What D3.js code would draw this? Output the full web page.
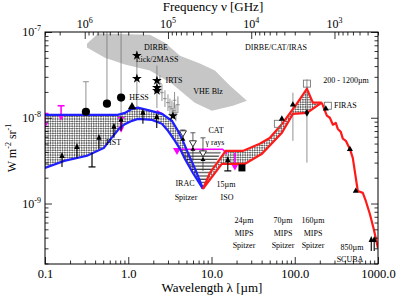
<!DOCTYPE html>
<html><head><meta charset="utf-8">
<script src="https://cdn.jsdelivr.net/npm/d3@7"></script>
<style>body{margin:0;background:#fff} text{font-family:"Liberation Serif",serif;fill:#000}</style>
</head><body><svg width="415" height="297"></svg>
<script>
// wavelength in micron, intensity in nW m^-2 sr^-1 (1e-9 W m^-2 sr^-1)
var optUpper = [[0.1,10.8],[0.752,10.8],[0.912,11.4],[1.11,12.7],[1.31,13.1],[1.82,12.1],[2.54,11.1],[3.35,9.2],[3.95,7.05],[4.54,5.38],[5.21,3.9],[6.5,2.4],[7.9,1.48]];
var optLower = [[0.1,2.6],[0.17,3.14],[0.32,3.6],[0.51,4.45],[0.62,5.7],[0.77,7.4],[0.91,8.4],[1.11,9.2],[1.31,9.7],[1.93,9.45],[2.54,8.5],[3.0,7.05],[3.64,5.38],[4.18,4.34],[4.8,3.31],[5.98,2.27],[7.9,1.48]];
var irUpper = [[7.9,1.48],[9.55,2.27],[12.6,3.3],[14.8,4.1],[23.8,4.1],[38,4.97],[50,5.8],[72,8.7],[106,14.6],[140,21.8],[165,15],[211,15]];
var irLower = [[7.9,1.48],[13.3,2.9],[25.2,2.9],[40.3,3.8],[70,6.67],[95,11.1],[140,11.4],[211,15]];
var firTail = [[211,15],[243,10.6],[264,10],[287,8.3],[311,8.7],[329,7.4],[357,6.85],[378,5.7],[411,5.38],[460,4.3],[498,3.4],[572,1.4],[657,1.33],[714,1.07],[800,0.75],[890,0.5],[1000,0.3]];
var iracGap = [[4.2,4.3],[7.9,1.48],[13.5,4.3]];
var dirbeBand = [[0.319,73],[0.433,96],[1.82,93],[2.76,75],[4.18,53],[7.25,43],[11,35.5],[16.6,23.7],[26.6,15.8],[18.1,13.8],[10.1,12.1],[6.3,15],[3.35,25],[1.82,35.5],[0.912,41.7],[0.525,50],[0.319,66]];
var catLimit = [[3.85,4.3],[13.6,4.3],[15.3,3.79]];
var catEnds = [[3.85,4.1],[19.1,2.7]];
var magentaUV = [[0.1,11.2],[0.156,13.8],[0.82,10]];
var magentaSeg = [[2.2,12.1],[2.7,10.8]];
var circles = [[0.31,11.75,26.3],[0.555,14.6,150],[0.82,17.2,150]];
var stars = [[1.27,53],[1.27,28.6],[2.21,27.1],[2.21,22.4],[2.21,20.7],[3.44,10.5]];
var starBars = [[1.27,10.5,60],[2.21,13,40.6]];
var irts = [[2.4,25],[2.54,19.6],[2.76,16.7],[3.0,15],[3.17,13.4],[3.35,12.7],[3.54,12.1],[3.74,11.4],[3.95,14.2],[3.6,16]];
var hess = [[1.11,13.4]];
var lowerLimits = [[0.16,2.67],[0.242,3.4],[0.445,4.34],[0.673,5.83],[0.82,7.05],[1.5,8.5],[2.2,7.6],[15.7,2.4],[830,0.28],[900,0.28]];
var hstBar = [[0.367,2.67,3.9]];
var irac = [[4.54,6.5,5.6,7.2],[5.98,4.97,3.14,6.68],[7.9,3.79,2.4,5.83]];
var isoSquare = [[23.2,2.6]];
var openSquares = [[62.7,8.5],[140,25],[250,13.8]];
var firBars = [[95,5.38,19.6],[140,3.0,28]];
var firPoints = [[70,9.7],[95,14.2],[236,12.7],[460,4.3],[541,1.4]];
var firDiamond = [[140,11.4]];
var xMajor = [0.1,1,10,100,1000];
var yMajor = [[1,"-9"],[10,"-8"],[100,"-7"]];
var fMajor = [[1e6,"6"],[1e5,"5"],[1e4,"4"],[1e3,"3"]];

var L=45,R=378,T=32,B=264;
var svg = d3.select("svg");
var x = d3.scaleLog().domain([0.1,1000]).range([L,R]);
var y = d3.scaleLog().domain([0.197,100]).range([B,T]);
var f = d3.scaleLog().domain([3e6,300]).range([L,R]);
var line = d3.line().x(function(d){return x(d[0]);}).y(function(d){return y(d[1]);});
var poly = function(a,b){ return line(a.concat(b.slice().reverse()))+"Z"; };

var defs = svg.append("defs");
var pat = defs.append("pattern").attr("id","xh").attr("patternUnits","userSpaceOnUse")
  .attr("width",3.4).attr("height",3.4).attr("patternTransform","rotate(45)");
pat.append("rect").attr("width",3.4).attr("height",3.4).attr("fill","#fff");
pat.append("rect").attr("width",1.7).attr("height",1.7).attr("fill","#666");
pat.append("rect").attr("x",1.7).attr("y",1.7).attr("width",1.7).attr("height",1.7).attr("fill","#666");
var hp = defs.append("pattern").attr("id","hl").attr("patternUnits","userSpaceOnUse").attr("width",6).attr("height",3.3);
hp.append("line").attr("x1",0).attr("x2",6).attr("y1",1).attr("y2",1).attr("stroke","#000").attr("stroke-width",0.9);
defs.append("clipPath").attr("id","clip").append("rect").attr("x",L).attr("y",T).attr("width",R-L).attr("height",B-T);

var g = svg.append("g").attr("clip-path","url(#clip)");

// shaded bands
g.append("path").attr("d",line(dirbeBand)+"Z").attr("fill","#c6c6c6");
g.append("path").attr("d",poly(optUpper,optLower)).attr("fill","url(#xh)");
g.append("path").attr("d",poly(irUpper,irLower)).attr("fill","url(#xh)");
g.append("path").attr("d",line(iracGap)+"Z").attr("fill","url(#hl)");

// grey error bars
var gr = g.append("g").attr("stroke","#777").attr("stroke-width",0.8).attr("fill","none");
circles.forEach(function(d){
  gr.append("line").attr("x1",x(d[0])).attr("x2",x(d[0])).attr("y1",y(d[1])).attr("y2",y(d[2]));
  gr.append("line").attr("x1",x(d[0])-3).attr("x2",x(d[0])+3).attr("y1",y(d[2])).attr("y2",y(d[2]));
});
gr.append("line").attr("x1",x(0.82)).attr("x2",x(0.82)).attr("y1",y(17.2)).attr("y2",y(8));
starBars.forEach(function(d){
  gr.append("line").attr("x1",x(d[0])).attr("x2",x(d[0])).attr("y1",y(d[1])).attr("y2",y(d[2]));
});
irts.forEach(function(d){
  gr.append("line").attr("x1",x(d[0])).attr("x2",x(d[0])).attr("y1",y(d[1]*0.8)).attr("y2",y(d[1]*1.25));
  gr.append("line").attr("x1",x(d[0]*0.95)).attr("x2",x(d[0]*1.05)).attr("y1",y(d[1])).attr("y2",y(d[1]));
});
firBars.forEach(function(d){
  gr.append("line").attr("x1",x(d[0])).attr("x2",x(d[0])).attr("y1",y(d[1])).attr("y2",y(d[2]));
});

// magenta limits
var mg = g.append("g").attr("stroke","#f0f").attr("stroke-width",1.6).attr("fill","none");
mg.append("path").attr("d",line(catLimit));
mg.append("path").attr("d",line(magentaSeg));
mg.append("line").attr("x1",x(19.1)).attr("x2",x(19.1)).attr("y1",y(3.9)).attr("y2",y(2.7));
magentaUV.forEach(function(d){
  var px=x(d[0]), py=y(d[1]);
  mg.append("line").attr("x1",px-3.5).attr("x2",px+3.5).attr("y1",py).attr("y2",py);
  mg.append("line").attr("x1",px).attr("x2",px).attr("y1",py).attr("y2",py+11);
  mg.append("path").attr("d","M"+(px-3)+","+(py+9)+"L"+px+","+(py+15)+"L"+(px+3)+","+(py+9)+"Z").attr("fill","#f0f").attr("stroke","none");
});
catEnds.forEach(function(d){
  var px=x(d[0]), py=y(d[1]);
  mg.append("path").attr("d","M"+(px-4)+","+(py-3)+"L"+(px+4)+","+(py-3)+"L"+px+","+(py+4)+"Z").attr("fill","#f0f").attr("stroke","none");
});

// envelope lines
var lw = 2.2;
g.append("path").attr("d",line(optUpper)).attr("fill","none").attr("stroke","#1f1fff").attr("stroke-width",lw);
g.append("path").attr("d",line(optLower)).attr("fill","none").attr("stroke","#1f1fff").attr("stroke-width",lw);
g.append("path").attr("d",line(irUpper)).attr("fill","none").attr("stroke","#ff1a1a").attr("stroke-width",lw);
g.append("path").attr("d",line(irLower)).attr("fill","none").attr("stroke","#ff1a1a").attr("stroke-width",lw);
g.append("path").attr("d",line(firTail)).attr("fill","none").attr("stroke","#ff1a1a").attr("stroke-width",lw).attr("stroke-linejoin","round");

// markers
var mk = g.append("g");
circles.forEach(function(d){
  mk.append("circle").attr("cx",x(d[0])).attr("cy",y(d[1])).attr("r",4.1).attr("fill","#000");
});
stars.forEach(function(d){
  mk.append("path").attr("d",d3.symbol().type(d3.symbolStar).size(30)()).attr("transform","translate("+x(d[0])+","+y(d[1])+")").attr("fill","#000");
});
hess.forEach(function(d){
  mk.append("path").attr("d",d3.symbol().type(d3.symbolTriangle).size(30)()).attr("transform","translate("+x(d[0])+","+y(d[1])+")").attr("fill","#000");
});
lowerLimits.forEach(function(d){
  var px=x(d[0]), py=y(d[1]);
  mk.append("line").attr("x1",px).attr("x2",px).attr("y1",py).attr("y2",py-12).attr("stroke","#000").attr("stroke-width",1.1);
  mk.append("path").attr("d","M"+(px-2.6)+","+(py-9)+"L"+px+","+(py-15)+"L"+(px+2.6)+","+(py-9)+"Z").attr("fill","#000");
});
hstBar.forEach(function(d){
  var px=x(d[0]);
  mk.append("line").attr("x1",px).attr("x2",px).attr("y1",y(d[1])).attr("y2",y(d[2])).attr("stroke","#000").attr("stroke-width",1.2);
  mk.append("line").attr("x1",px-3.5).attr("x2",px+3.5).attr("y1",y(d[1])).attr("y2",y(d[1])).attr("stroke","#000").attr("stroke-width",1.2);
});
mk.append("line").attr("x1",x(15.7)-3.5).attr("x2",x(15.7)+3.5).attr("y1",y(2.4)).attr("y2",y(2.4)).attr("stroke","#000").attr("stroke-width",1.2);
irac.forEach(function(d){
  var px=x(d[0]), py=y(d[1]);
  mk.append("line").attr("x1",px).attr("x2",px).attr("y1",y(d[2])).attr("y2",y(d[3])).attr("stroke","#333").attr("stroke-width",0.8);
  mk.append("line").attr("x1",px-2.5).attr("x2",px+2.5).attr("y1",y(d[3])).attr("y2",y(d[3])).attr("stroke","#333").attr("stroke-width",0.8);
  mk.append("path").attr("d","M"+(px-3.5)+","+(py-3)+"L"+(px+3.5)+","+(py-3)+"L"+px+","+(py+3)+"Z").attr("fill","#fff").attr("stroke","#000").attr("stroke-width",0.8);
  mk.append("path").attr("d","M"+(px-2.5)+","+(py+7)+"L"+px+","+(py+3)+"L"+(px+2.5)+","+(py+7)+"Z").attr("fill","#000");
});
isoSquare.forEach(function(d){
  mk.append("rect").attr("x",x(d[0])-3.5).attr("y",y(d[1])-3.5).attr("width",7).attr("height",7).attr("fill","#000");
});
openSquares.forEach(function(d){
  mk.append("rect").attr("x",x(d[0])-3.5).attr("y",y(d[1])-3.5).attr("width",7).attr("height",7).attr("fill","none").attr("stroke","#777").attr("stroke-width",0.9);
});
firPoints.forEach(function(d){
  mk.append("path").attr("d",d3.symbol().type(d3.symbolTriangle).size(16)()).attr("transform","translate("+x(d[0])+","+y(d[1])+")").attr("fill","#000");
});
firDiamond.forEach(function(d){
  mk.append("path").attr("d",d3.symbol().type(d3.symbolDiamond).size(18)()).attr("transform","translate("+x(d[0])+","+y(d[1])+")").attr("fill","#000");
});

// axes
var ax = svg.append("g");
var minorX = x.ticks().filter(function(v){return xMajor.indexOf(v)<0;});
var minorY = y.ticks().filter(function(v){return [1,10,100].indexOf(v)<0;});
var minorF = f.ticks().filter(function(v){return [1e3,1e4,1e5,1e6].indexOf(v)<0;});
var noLab = function(){return "";};
ax.append("g").attr("transform","translate(0,"+B+")").call(d3.axisBottom(x).tickValues(xMajor).tickSize(-7).tickPadding(5).tickFormat(d3.format(".1f")));
ax.append("g").attr("transform","translate(0,"+B+")").call(d3.axisBottom(x).tickValues(minorX).tickSize(-3.5).tickFormat(noLab));
ax.append("g").attr("transform","translate("+L+",0)").call(d3.axisLeft(y).tickValues([1,10,100]).tickSize(-7).tickFormat(noLab));
ax.append("g").attr("transform","translate("+L+",0)").call(d3.axisLeft(y).tickValues(minorY).tickSize(-3.5).tickFormat(noLab));
ax.append("g").attr("transform","translate("+R+",0)").call(d3.axisRight(y).tickValues([1,10,100]).tickSize(-7).tickFormat(noLab));
ax.append("g").attr("transform","translate("+R+",0)").call(d3.axisRight(y).tickValues(minorY).tickSize(-3.5).tickFormat(noLab));
ax.append("g").attr("transform","translate(0,"+T+")").call(d3.axisTop(f).tickValues([1e6,1e5,1e4,1e3]).tickSize(-7).tickFormat(noLab));
ax.append("g").attr("transform","translate(0,"+T+")").call(d3.axisTop(f).tickValues(minorF).tickSize(-3.5).tickFormat(noLab));
ax.selectAll(".domain").remove();
ax.selectAll("line").attr("stroke","#000").attr("stroke-width",0.8);
ax.selectAll("text").attr("font-family","Liberation Serif").attr("font-size",12.5);
svg.append("rect").attr("x",L).attr("y",T).attr("width",R-L).attr("height",B-T).attr("fill","none").attr("stroke","#000").attr("stroke-width",1);

yMajor.forEach(function(d){
  var t = svg.append("text").attr("x",L-4).attr("y",y(d[0])+4).attr("text-anchor","end").attr("font-size",12);
  t.append("tspan").text("10");
  t.append("tspan").attr("dy",-5).attr("font-size",8).text(d[1]);
});
fMajor.forEach(function(d){
  var t = svg.append("text").attr("x",f(d[0])).attr("y",28).attr("text-anchor","middle").attr("font-size",12);
  t.append("tspan").text("10");
  t.append("tspan").attr("dy",-5).attr("font-size",8).text(d[1]);
});
svg.append("text").attr("x",213).attr("y",11).attr("text-anchor","middle").attr("font-size",13).text("Frequency \u03bd [GHz]");
svg.append("text").attr("x",212).attr("y",292).attr("text-anchor","middle").attr("font-size",13).text("Wavelength \u03bb [\u00b5m]");
var yt = svg.append("text").attr("transform","translate(16,148) rotate(-90)").attr("text-anchor","middle").attr("font-size",12);
yt.append("tspan").text("W m");
yt.append("tspan").attr("dy",-5).attr("font-size",8).text("-2");
yt.append("tspan").attr("dy",5).text(" sr");
yt.append("tspan").attr("dy",-5).attr("font-size",8).text("-1");

// annotations
var notes = [
  ["DIRBE",156,50,"middle"],["Lick/2MASS",157,62,"middle"],["IRTS",174,83,"middle"],["VHE Blz",208,94,"middle"],
  ["HESS",139,100,"middle"],["HST",106,145,"start"],["CAT",216,133,"middle"],["\u03b3 rays",215,145,"middle"],
  ["IRAC",185,186,"middle"],["Spitzer",186,200,"middle"],["15\u00b5m",226,187,"middle"],["ISO",227,200,"middle"],
  ["24\u00b5m",244,223,"middle"],["MIPS",244,236,"middle"],["Spitzer",244,248,"middle"],
  ["70\u00b5m",283,223,"middle"],["MIPS",283,236,"middle"],["Spitzer",283,248,"middle"],
  ["160\u00b5m",313,223,"middle"],["MIPS",313,236,"middle"],["Spitzer",313,248,"middle"],
  ["850\u00b5m",352,250,"middle"],["SCUBA",350,262,"middle"],
  ["DIRBE/CAT/IRAS",276,50,"middle"],["200 - 1200\u00b5m",346,83,"middle"],["FIRAS",334,108,"start"]
];
svg.selectAll("text.note").data(notes).enter().append("text").attr("class","note")
  .attr("x",function(d){return d[1];}).attr("y",function(d){return d[2];})
  .attr("text-anchor",function(d){return d[3];}).attr("font-size",8).text(function(d){return d[0];});
</script></body></html>
